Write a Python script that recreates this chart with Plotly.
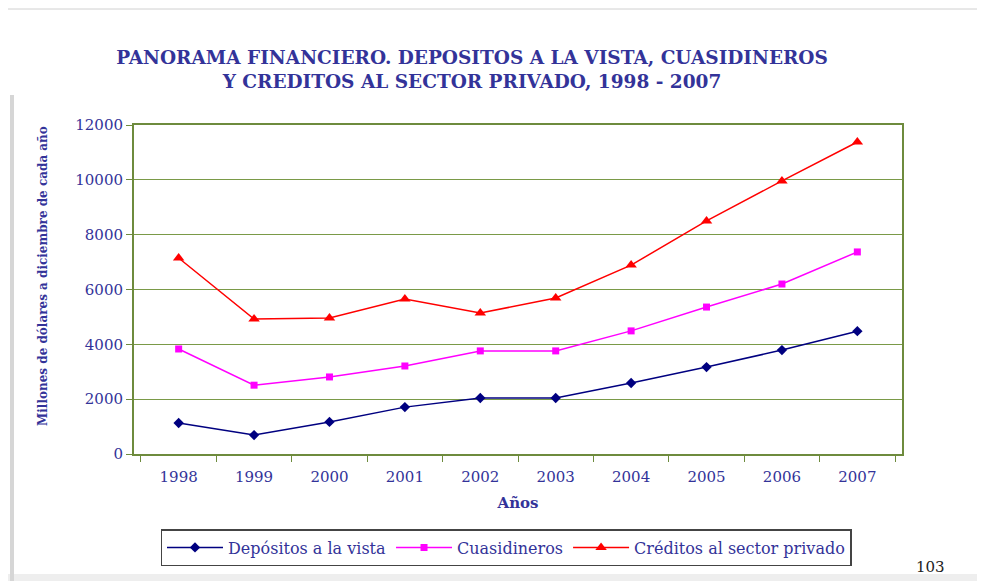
import plotly.graph_objects as go

years = ["1998", "1999", "2000", "2001", "2002", "2003", "2004", "2005", "2006", "2007"]
depositos = [1130, 690, 1170, 1710, 2040, 2040, 2590, 3170, 3790, 4480]
cuasidineros = [3830, 2510, 2810, 3210, 3760, 3760, 4490, 5360, 6200, 7370]
creditos = [7150, 4920, 4960, 5650, 5140, 5690, 6890, 8500, 9960, 11380]
y_ticks = [0, 2000, 4000, 6000, 8000, 10000, 12000]

TXT = "#333399"
GRID = "#7a9a48"
FRAME = "#6e8b3d"
FONT = "DejaVu Serif"

# page offset (body margin) and plot area in screen pixels
OFF = 8
PL, PR, PT, PB = 134, 902, 125, 454
W, H = 985, 581


def px(x):
    return (x - PL) / (PR - PL)


def py(y):
    return (PB - y) / (PB - PT)


fig = go.Figure()
fig.add_trace(go.Scatter(x=years, y=depositos, name="Depósitos a la vista", mode="lines+markers",
                         line=dict(color="#000080", width=1.5),
                         marker=dict(symbol="diamond", size=8, color="#000080")))
fig.add_trace(go.Scatter(x=years, y=cuasidineros, name="Cuasidineros", mode="lines+markers",
                         line=dict(color="#ff00ff", width=1.5),
                         marker=dict(symbol="square", size=7, color="#ff00ff")))
fig.add_trace(go.Scatter(x=years, y=creditos, name="Créditos al sector privado", mode="lines+markers",
                         line=dict(color="#ff0000", width=1.5),
                         marker=dict(symbol="triangle-up", size=10, color="#ff0000")))

fig.update_layout(
    width=W, height=H,
    margin=dict(l=PL - OFF, r=W - (PR - OFF), t=PT - OFF, b=H - (PB - OFF)),
    paper_bgcolor="white", plot_bgcolor="white",
    font=dict(family=FONT, color=TXT, size=14),
    title=dict(text="<b>PANORAMA FINANCIERO. DEPOSITOS A LA VISTA, CUASIDINEROS<br>Y CREDITOS AL SECTOR PRIVADO, 1998 - 2007</b>",
               x=px(472), xref="paper", xanchor="center",
               y=(H - (64 - OFF)) / H, yanchor="top",
               font=dict(family=FONT, size=18.5, color=TXT)),
    xaxis=dict(type="category", showgrid=False, showline=True, linecolor=FRAME, linewidth=2,
               mirror=True, ticks="outside", tickcolor=FRAME, ticklen=6, tickson="boundaries",
               ticklabelstandoff=8,
               tickfont=dict(size=15, color=TXT),
               title=dict(text="<b>Años</b>", font=dict(size=15, color=TXT), standoff=12)),
    yaxis=dict(range=[0, 12000], tickvals=y_ticks, tickformat="d", showgrid=True, gridcolor=GRID,
               gridwidth=1.3, showline=True, linecolor=FRAME, linewidth=2, mirror=True,
               ticks="outside", tickcolor=FRAME, ticklen=6, zeroline=False,
               tickfont=dict(size=15, color=TXT), title=None),
    legend=dict(orientation="h", x=px(506), xanchor="center", y=py(529), yanchor="top",
                bordercolor="#444444", borderwidth=1.5, bgcolor="white",
                font=dict(family=FONT, size=16, color=TXT), itemwidth=56),
    showlegend=True,
)

fig.add_annotation(text="<b>Millones de dólares a diciembre de cada año</b>", textangle=-90,
                   xref="paper", yref="paper", x=px(43), y=py(276),
                   xanchor="center", yanchor="middle", showarrow=False,
                   font=dict(family=FONT, size=12, color=TXT))
fig.add_annotation(text="103", xref="paper", yref="paper", x=px(930), y=py(556),
                   xanchor="center", yanchor="top", showarrow=False,
                   font=dict(family=FONT, size=15, color="#222222"))

# page decoration
fig.add_shape(type="line", xref="paper", yref="paper", x0=px(12), x1=px(12),
              y0=py(95), y1=py(600), line=dict(color="#d6d6d6", width=4))
fig.add_shape(type="rect", xref="paper", yref="paper", x0=px(0), x1=px(1000),
              y0=py(574), y1=py(600), line=dict(width=0), fillcolor="#eeeeee", layer="below")
fig.add_shape(type="line", xref="paper", yref="paper", x0=px(0), x1=px(1000),
              y0=py(9), y1=py(9), line=dict(color="#d0d0d0", width=1))

fig.write_html("out.html")
